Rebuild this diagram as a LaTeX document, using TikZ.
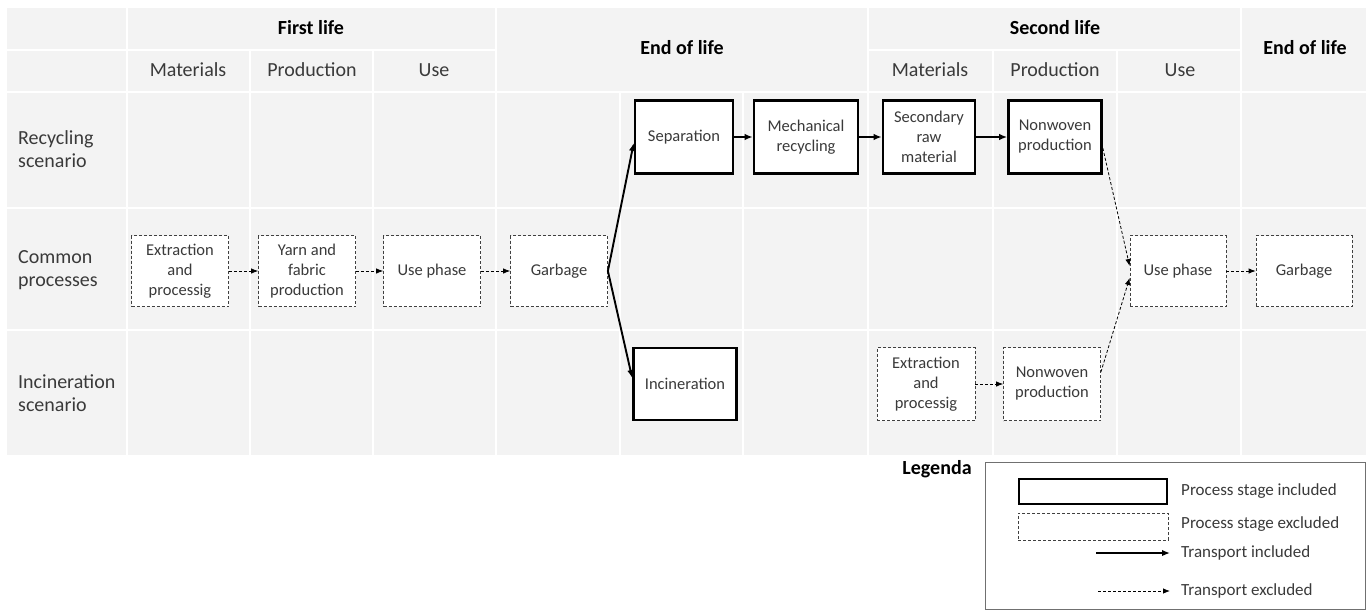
\documentclass[tikz,border=0pt]{standalone}
\usepackage{fontspec}
\setmainfont{Carlito}
\usetikzlibrary{arrows.meta,calc}
\definecolor{cellgray}{HTML}{F3F3F3}
\definecolor{txt}{HTML}{3A3A3A}
\definecolor{legline}{HTML}{707070}
\begin{document}
\begin{tikzpicture}[x=1pt,y=-1pt,
  grid/.style={draw=white,line width=1.6pt},
  hdr/.style={font=\fontsize{20}{23}\selectfont,text=txt,inner sep=0pt},
  bhdr/.style={font=\bfseries\fontsize{20}{23}\selectfont,text=black,inner sep=0pt},
  rowlab/.style={font=\fontsize{20}{23}\selectfont,text=txt,align=left,anchor=west,inner sep=0pt},
  boxbase/.style={fill=white,align=center,inner sep=1pt,text=txt,font=\fontsize{16.5}{20}\selectfont},
  procin/.style={boxbase,draw=black,line width=2.6pt},
  procex/.style={boxbase,draw=black!75,line width=0.8pt,dash pattern=on 3pt off 2pt},
  arrin/.style={line width=1.9pt,-{Latex[length=8pt,width=6.5pt]}},
  arrex/.style={line width=0.8pt,dash pattern=on 3pt off 2pt,-{Latex[length=7pt,width=5.5pt]}},
  legtext/.style={font=\fontsize{17}{20}\selectfont,text=txt,anchor=west,inner sep=0pt}
]
\useasboundingbox (0,0) rectangle (1370,611);
\fill[white] (0,0) rectangle (1370,611);
% table background
\fill[cellgray] (7,8) rectangle (1366,455);
% grid lines
\draw[grid] (127,8) -- (127,455);
\draw[grid] (496,8) -- (496,455);
\draw[grid] (868,8) -- (868,455);
\draw[grid] (1241,8) -- (1241,455);
\foreach \xx in {250,373,993,1117} \draw[grid] (\xx,50) -- (\xx,455);
\foreach \xx in {620,743} \draw[grid] (\xx,92) -- (\xx,455);
\draw[grid] (7,50) -- (496,50);
\draw[grid] (868,50) -- (1241,50);
\foreach \yy in {92,208,330} \draw[grid] (7,\yy) -- (1366,\yy);

% headers
\node[bhdr] (h1) at (311,28) {First life};
\node[hdr] (h2) at (188,70) {Materials};
\node[hdr] (h3) at (312,70) {Production};
\node[hdr] (h4) at (434,70) {Use};
\node[bhdr] (h5) at (682,48) {End of life};
\node[bhdr] (h6) at (1055,28) {Second life};
\node[hdr] (h7) at (930,70) {Materials};
\node[hdr] (h8) at (1055,70) {Production};
\node[hdr] (h9) at (1180,70) {Use};
\node[bhdr] (h10) at (1305,48) {End of life};

% row labels
\node[rowlab] (r1) at (18,149) {Recycling\\scenario};
\node[rowlab] (r2) at (18,270) {Common\\processes};
\node[rowlab] (r3) at (18,393) {Incineration\\scenario};

% common processes
\node[procex,minimum width=97pt,minimum height=71pt] (ext1) at (180,271) {Extraction\\and\\processig};
\node[procex,minimum width=97pt,minimum height=71pt] (yarn) at (307,271) {Yarn and\\fabric\\production};
\node[procex,minimum width=97pt,minimum height=71pt] (use1) at (432,271) {Use phase};
\node[procex,minimum width=97pt,minimum height=71pt] (garb1) at (559,271) {Garbage};
\node[procex,minimum width=96pt,minimum height=71pt] (use2) at (1178,271) {Use phase};
\node[procex,minimum width=96pt,minimum height=71pt] (garb2) at (1304,271) {Garbage};

% recycling
\node[procin,minimum width=98pt,minimum height=73pt] (sep) at (684,137) {Separation};
\node[procin,minimum width=104pt,minimum height=73pt] (mech) at (806,137) {Mechanical\\recycling};
\node[procin,minimum width=92pt,minimum height=73pt] (sec) at (929,137) {Secondary\\raw\\material};
\node[procin,minimum width=93pt,minimum height=73pt] (nw1) at (1055,137) {Nonwoven\\production};

% incineration
\node[procin,minimum width=103pt,minimum height=72pt] (inc) at (685,384) {Incineration};
\node[procex,minimum width=98pt,minimum height=73pt] (ext2) at (926,384) {Extraction\\and\\processig};
\node[procex,minimum width=97pt,minimum height=73pt] (nw2) at (1052,384) {Nonwoven\\production};

% connectors
\draw[arrex] (ext1) -- (yarn);
\draw[arrex] (yarn) -- (use1);
\draw[arrex] (use1) -- (garb1);
\draw[arrex] (use2) -- (garb2);
\draw[arrex] (ext2) -- (nw2);
\draw[arrin] (garb1.east) -- ($(sep.west)+(0,6)$);
\draw[arrin] (garb1.east) -- ($(inc.west)+(0,-6)$);
\draw[arrin] (sep) -- (mech);
\draw[arrin] (mech) -- (sec);
\draw[arrin] (sec) -- (nw1);
\draw[arrex] ($(nw1.east)+(0,11)$) -- ($(use2.west)+(0,-5)$);
\draw[arrex] ($(nw2.east)+(0,-12)$) -- ($(use2.west)+(0,7)$);

% legend
\node[font=\bfseries\fontsize{20}{23}\selectfont,inner sep=0pt] (leg) at (937,469) {Legenda};
\draw[legline,line width=0.8pt] (985,462) rectangle (1365,609);
\node[draw=black,line width=2.6pt,minimum width=148pt,minimum height=25pt,inner sep=0pt] (lgin) at (1093,491.5) {};
\node[draw=black!75,line width=0.8pt,dash pattern=on 3pt off 2pt,minimum width=150pt,minimum height=27pt,inner sep=0pt] (lgex) at (1093,526.5) {};
\node[legtext] (t1) at (1181,491) {Process stage included};
\node[legtext] (t2) at (1181,524) {Process stage excluded};
\node[legtext] (t3) at (1181,553) {Transport included};
\node[legtext] (t4) at (1181,591) {Transport excluded};
\coordinate (a1s) at (1096,553);
\coordinate (a1e) at (1170,553);
\coordinate (a2s) at (1098,591);
\coordinate (a2e) at (1170,591);
\draw[arrin,line width=1.7pt] (a1s) -- (a1e);
\draw[arrex] (a2s) -- (a2e);
\end{tikzpicture}
\end{document}
